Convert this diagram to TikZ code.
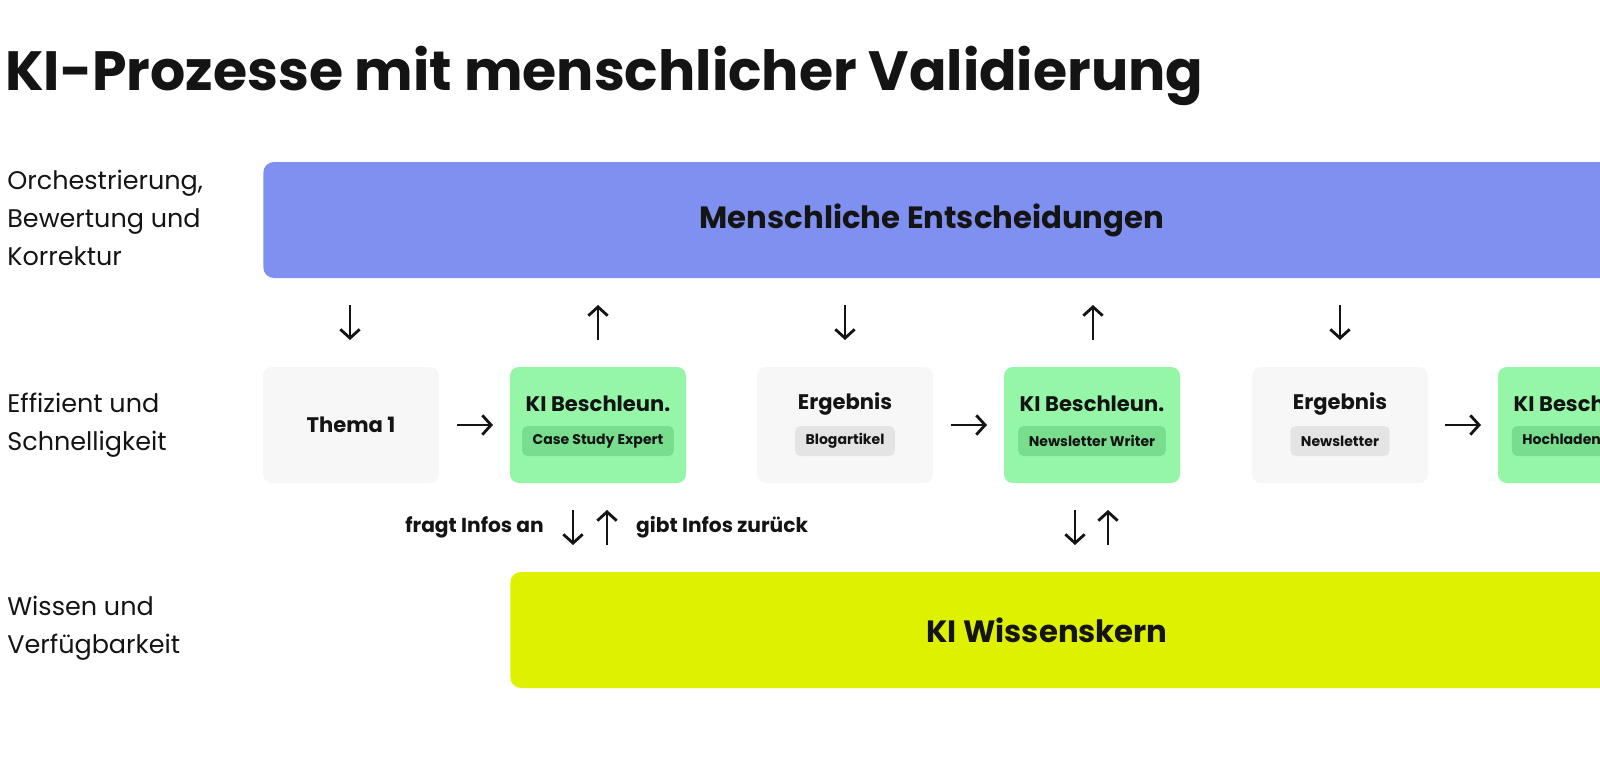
\documentclass[tikz,border=0pt]{standalone}
\usepackage{fontspec}
\setmainfont{Poppins}
\usetikzlibrary{arrows.meta, positioning}
\definecolor{humancolor}{RGB}{128, 144, 240}
\definecolor{aicolor}{RGB}{150, 246, 168}
\definecolor{aitag}{RGB}{120, 222, 142}
\definecolor{resultcolor}{RGB}{247, 247, 247}
\definecolor{resulttag}{RGB}{228, 228, 228}
\definecolor{corecolor}{RGB}{222, 242, 0}
\definecolor{textcolor}{RGB}{20, 20, 20}
\begin{document}
\begin{tikzpicture}[
    x=0.02cm, y=-0.02cm,
    every node/.style={text=textcolor},
    layer/.style={fill=#1, rounded corners=6pt, minimum height=116*0.02cm, anchor=west, inner sep=0pt},
    stage/.style={fill=#1, rounded corners=5pt, minimum width=176*0.02cm, minimum height=116*0.02cm, inner sep=0pt},
    heading/.style={font=\bfseries\fontsize{12}{14}\selectfont},
    tag/.style={fill=#1, rounded corners=3pt, font=\fontsize{8}{10}\selectfont\bfseries, inner xsep=6pt, minimum height=30*0.02cm},
    side/.style={anchor=north west, align=left, font=\fontsize{14.5}{21.5}\selectfont, inner sep=0pt},
    arrow/.style={-{Straight Barb[length=5pt, width=11pt]}, line width=1.6pt, textcolor},
    note/.style={font=\bfseries\fontsize{11.5}{13}\selectfont}
]
\useasboundingbox (0,0) rectangle (1600,781);
\clip (0,0) rectangle (1600,781);

% Title
\node[anchor=base west, inner sep=0pt, font=\bfseries\fontsize{31.5}{38}\selectfont] (title) at (5,90) {KI-Prozesse mit menschlicher Validierung};

% Side labels
\node[side] (lvl1) at (7,170) {Orchestrierung,\\Bewertung und\\Korrektur};
\node[side] (lvl2) at (7,393) {Effizient und\\Schnelligkeit};
\node[side] (lvl3) at (7,596) {Wissen und\\Verfügbarkeit};

% Layers
\node[layer=humancolor, minimum width=1400*0.02cm] (human) at (263,220) {};
\node[font=\bfseries\fontsize{17.5}{20}\selectfont] (humantext) at (932,220) {Menschliche Entscheidungen};
\node[layer=corecolor, minimum width=1150*0.02cm] (core) at (510,630) {};
\node[font=\bfseries\fontsize{17.5}{20}\selectfont] (coretext) at (1047,630) {KI Wissenskern};

% Stages
\node[stage=resultcolor] (topic) at (351,425) {};
\node[heading] at (351,425) {Thema 1};
\foreach \name/\x/\sub in {aia/598/Case Study Expert, aib/1092/Newsletter Writer, aic/1586/Hochladen Expert} {
  \node[stage=aicolor] (\name) at (\x,425) {};
  \node[heading] (\name head) at (\x,404) {KI Beschleun.};
  \node[tag=aitag] (\name tag) at (\x,441) {\sub};
}
\foreach \name/\x/\sub in {resa/845/Blogartikel, resb/1340/Newsletter} {
  \node[stage=resultcolor] (\name) at (\x,425) {};
  \node[heading] (\name head) at (\x,404) {Ergebnis};
  \node[tag=resulttag] (\name tag) at (\x,441) {\sub};
}

% Arrows between layers
\foreach \x in {350,845,1340} \draw[arrow] (\x,305) -- (\x,340);
\foreach \x in {598,1093} \draw[arrow] (\x,340) -- (\x,305);
\foreach \x in {457,951,1445} \draw[arrow] (\x,425) -- (\x+36,425);
\foreach \x in {573,1075} \draw[arrow] (\x,510) -- (\x,545);
\foreach \x in {607,1108} \draw[arrow] (\x,545) -- (\x,510);

\node[note, anchor=east] (ask) at (550,527) {fragt Infos an};
\node[note, anchor=west] (give) at (630,527) {gibt Infos zurück};

\end{tikzpicture}
\end{document}
